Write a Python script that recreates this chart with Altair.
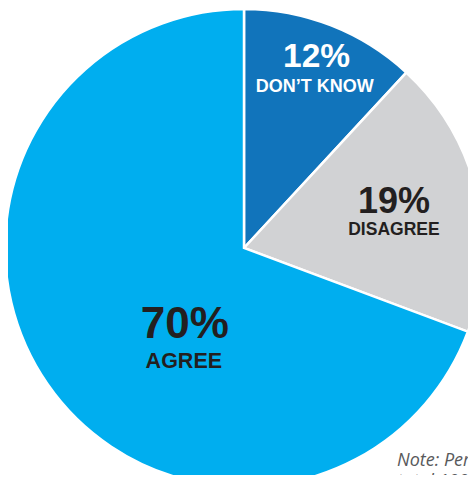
import math
import altair as alt
import pandas as pd

# ---- data ----
categories = ["DON\u2019T KNOW", "DISAGREE", "AGREE"]
values = [12, 19, 70]
pct_labels = ["12%", "19%", "70%"]
note_text = ["Note: Percentages may not", "total 100% due to rounding."]

# ---- styles ----
slice_colors = ["#1174BB", "#D1D2D4", "#00AEEF"]
text_colors = ["#FFFFFF", "#231F20", "#231F20"]
pct_sizes = [33.5, 36, 44]
name_sizes = [18, 17.5, 21.5]
# (radius, dx, dy) for the percent label and the name label of each slice
pct_pos = [(180, 7, -13), (150, 4, 0), (100, 23, 33)]
name_pos = [(180, 5, 12), (150, 4, 22), (100, 22, 63)]

FONT = "Liberation Sans"
CX, CY = 236, 240
R_OUT = 239
total = sum(values)

df = pd.DataFrame({
    "category": categories,
    "value": values,
    "pct": pct_labels,
    "order": list(range(len(categories))),
})

theta_scale = alt.Scale(domain=[0, total], range=[0, 2 * math.pi])

base = alt.Chart(df).transform_stack(
    stack="value", as_=["start", "end"], groupby=[],
    sort=[alt.SortField("order", order="ascending")],
).transform_calculate(mid="(datum.start + datum.end) / 2")

pie = base.mark_arc(outerRadius=R_OUT, stroke="white", strokeWidth=2.5).encode(
    theta=alt.Theta("start:Q", scale=theta_scale),
    theta2="end:Q",
    color=alt.Color("category:N", scale=alt.Scale(domain=categories, range=slice_colors), legend=None),
    x=alt.value(CX),
    y=alt.value(CY),
)

layers = [pie]
for i in range(len(categories)):
    r, dx, dy = pct_pos[i]
    layers.append(
        base.transform_filter(alt.datum.order == i).mark_text(
            radius=r, dx=dx, dy=dy, font=FONT, fontWeight="bold",
            fontSize=pct_sizes[i], color=text_colors[i], baseline="alphabetic", align="center",
        ).encode(theta=alt.Theta("mid:Q", scale=theta_scale), text="pct:N",
                 x=alt.value(CX), y=alt.value(CY))
    )
    r, dx, dy = name_pos[i]
    layers.append(
        base.transform_filter(alt.datum.order == i).mark_text(
            radius=r, dx=dx, dy=dy, font=FONT, fontWeight="bold",
            fontSize=name_sizes[i], color=text_colors[i], baseline="alphabetic", align="center",
        ).encode(theta=alt.Theta("mid:Q", scale=theta_scale), text="category:N",
                 x=alt.value(CX), y=alt.value(CY))
    )

note = alt.Chart(pd.DataFrame({"t": [note_text]})).mark_text(
    align="left", baseline="alphabetic", font="Open Sans", fontStyle="italic",
    fontSize=18, color="#58595B", lineHeight=21,
).encode(text="t", x=alt.value(389), y=alt.value(458))
layers.append(note)

chart = alt.layer(*layers).properties(
    width=460, height=467, padding=0, autosize=alt.AutoSizeParams(type="none"),
).configure_view(stroke=None)

chart.save("out.html", embed_options={"renderer": "svg", "actions": False})
